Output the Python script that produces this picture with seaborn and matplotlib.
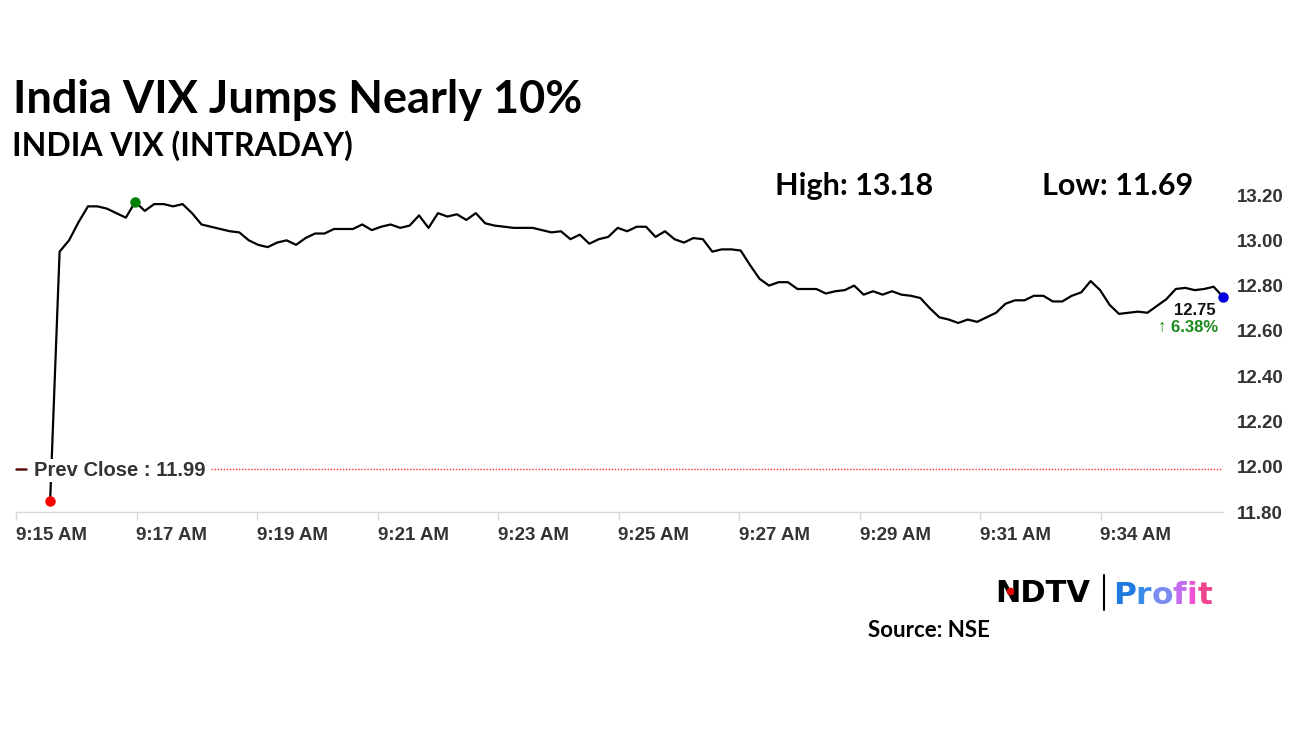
import pandas as pd
import seaborn as sns
import matplotlib.pyplot as plt
from matplotlib import transforms

# India VIX intraday prints
vix = [
    11.85, 12.95, 13.00, 13.08, 13.15, 13.15, 13.14, 13.12, 13.10, 13.17,
    13.13, 13.16, 13.16, 13.15, 13.16, 13.12, 13.07, 13.06, 13.05, 13.04,
    13.035, 13.00, 12.98, 12.97, 12.99, 13.00, 12.98, 13.01, 13.03, 13.03,
    13.05, 13.05, 13.05, 13.07, 13.045, 13.06, 13.07, 13.055, 13.065, 13.11,
    13.055, 13.12, 13.105, 13.115, 13.09, 13.12, 13.075, 13.065, 13.06, 13.055,
    13.055, 13.055, 13.045, 13.035, 13.04, 13.005, 13.025, 12.985, 13.005, 13.015,
    13.055, 13.04, 13.06, 13.06, 13.015, 13.04, 13.005, 12.99, 13.01, 13.005,
    12.95, 12.96, 12.96, 12.955, 12.89, 12.83, 12.80, 12.815, 12.815, 12.785,
    12.785, 12.785, 12.765, 12.775, 12.78, 12.80, 12.76, 12.775, 12.76, 12.775,
    12.76, 12.755, 12.745, 12.70, 12.66, 12.65, 12.635, 12.65, 12.64, 12.66,
    12.68, 12.72, 12.735, 12.735, 12.755, 12.755, 12.73, 12.73, 12.755, 12.77,
    12.82, 12.78, 12.715, 12.675, 12.68, 12.685, 12.68, 12.71, 12.74, 12.785,
    12.79, 12.78, 12.785, 12.795, 12.75,
]
prev_close = 11.99
high_val = "13.18"
low_val = "11.69"
last_label = "12.75"
change_label = "\u2191 6.38%"

tick_minutes = [0, 2, 4, 6, 8, 10, 12, 14, 16, 18]
tick_labels = ["9:15 AM", "9:17 AM", "9:19 AM", "9:21 AM", "9:23 AM",
               "9:25 AM", "9:27 AM", "9:29 AM", "9:31 AM", "9:34 AM"]
y_ticks = [11.80, 12.00, 12.20, 12.40, 12.60, 12.80, 13.00, 13.20]

# sampling times -> minutes after 9:15
times = pd.date_range("2024-01-01 09:15:34", periods=len(vix), freq="9420ms")
minutes = (times - pd.Timestamp("2024-01-01 09:15:00")).total_seconds() / 60
df = pd.DataFrame({"minute": minutes, "vix": vix})

sns.set_theme(style="white")
plt.rcParams['font.family'] = ['Liberation Sans', 'DejaVu Sans']

W, H = 1296, 729
fig = plt.figure(figsize=(W / 100, H / 100), dpi=100)
fig.patch.set_facecolor("white")
ax = fig.add_axes([16 / W, 1 - 512 / H, (1223 - 16) / W, (512 - 186) / H])

sns.lineplot(data=df, x="minute", y="vix", ax=ax, color="black", linewidth=1.6, zorder=3)

# markers: open, high, last
imax = df["vix"].idxmax()
ax.plot(df["minute"].iloc[0], df["vix"].iloc[0], "o", color="#ff0000", ms=6.5, zorder=5, clip_on=False)
ax.plot(df["minute"].iloc[imax], df["vix"].iloc[imax], "o", color="#008000", ms=6.5, zorder=5, clip_on=False)
ax.plot(df["minute"].iloc[-1], df["vix"].iloc[-1], "o", color="#0000dd", ms=6.5, zorder=5, clip_on=False)

ax.set_xlim(0, (1223 - 16) / 60.25)
ax.set_ylim(11.80, 11.80 + (512 - 186) / 226.4)

# previous close
ax.axhline(prev_close, xmin=(211 - 16) / (1223 - 16), xmax=1, color="#ff3030",
           linestyle=(0, (1, 1.2)), linewidth=1.0, zorder=2)
blend = transforms.blended_transform_factory(ax.transAxes, ax.transData)
ax.plot([0, 10 / (1223 - 16)], [prev_close, prev_close], transform=blend,
        color="#5a1010", linewidth=1.8, clip_on=False, zorder=4)
ax.annotate("Prev Close : 11.99", ((34 - 16) / (1223 - 16), prev_close), xycoords=blend,
            xytext=(0, -2), textcoords="offset pixels",
            ha="left", va="center", fontsize=14.5, fontweight="bold", color="#333333",
            bbox=dict(facecolor="white", edgecolor="none", pad=1.5), zorder=4)

# last value labels
x_last, y_last = df["minute"].iloc[-1], df["vix"].iloc[-1]
ax.annotate(last_label, (x_last, y_last), xytext=(-28, -14), textcoords="offset pixels",
            ha="center", va="center", fontsize=12, fontweight="bold", color="#111111",
            bbox=dict(facecolor="white", edgecolor="none", pad=1), zorder=4)
ax.annotate(change_label, (x_last, y_last), xytext=(-35, -31), textcoords="offset pixels",
            ha="center", va="center", fontsize=12, fontweight="bold", color="#1a8a1a", zorder=4)

# axes styling
for side in ["top", "left", "right"]:
    ax.spines[side].set_visible(False)
ax.spines["bottom"].set_color("#d8d8d8")
ax.spines["bottom"].set_linewidth(1)
ax.set_xticks(tick_minutes)
ax.set_xticklabels(tick_labels, ha="left")
ax.set_yticks(y_ticks)
ax.set_yticklabels([f"{v:.2f}" for v in y_ticks])
ax.yaxis.tick_right()
ax.tick_params(axis="x", bottom=True, length=6, width=1, color="#d8d8d8", pad=5,
               labelsize=13.5, labelcolor="#333333")
ax.tick_params(axis="y", right=False, pad=4, labelsize=13.5, labelcolor="#333333")
for lbl in ax.get_xticklabels() + ax.get_yticklabels():
    lbl.set_fontweight("bold")
ax.set_xlabel("")
ax.set_ylabel("")
ax.grid(False)

# headings
head = ['Lato', 'DejaVu Sans']
fig.text(13 / W, 1 - 113 / H, "India VIX Jumps Nearly 10%", family=head, fontsize=32.5,
         fontweight="bold", color="black", va="baseline")
fig.text(12 / W, 1 - 156 / H, "INDIA VIX (INTRADAY)", family=head, fontsize=23,
         fontweight="bold", color="black", va="baseline")
fig.text(775 / W, 1 - 195 / H, f"High: {high_val}", family=head, fontsize=22,
         fontweight="bold", color="black", va="baseline")
fig.text(1042 / W, 1 - 195 / H, f"Low: {low_val}", family=head, fontsize=22,
         fontweight="bold", color="black", va="baseline")

# logo and source
fig.text(995 / W, 1 - 602 / H, "NDTV", family=['DejaVu Sans'], fontsize=22,
         fontweight="heavy", color="black", va="baseline")
fig.add_artist(plt.Line2D([1010 / W], [1 - 591 / H], marker="o", markersize=4.5,
                          color="#e00000", linestyle="none", zorder=6))
fig.add_artist(plt.Line2D([1104 / W, 1104 / W], [1 - 575 / H, 1 - 610 / H],
                          color="black", linewidth=1.5))
profit_colors = ["#1f7ae0", "#3b8be8", "#7a8cf2", "#c36cf0", "#f052d6", "#f0448e"]
xpos = 1113
for ch, col in zip("Profit", profit_colors):
    t = fig.text(xpos / W, 1 - 604 / H, ch, family=['DejaVu Sans'], fontsize=22.5,
                 fontweight="bold", color=col, va="baseline")
    fig.canvas.draw()
    xpos += t.get_window_extent().width
fig.text(868 / W, 1 - 637 / H, "Source: NSE", family=head, fontsize=16,
         fontweight="bold", color="black", va="baseline")

fig.savefig("out.png", dpi=100, facecolor="white")
